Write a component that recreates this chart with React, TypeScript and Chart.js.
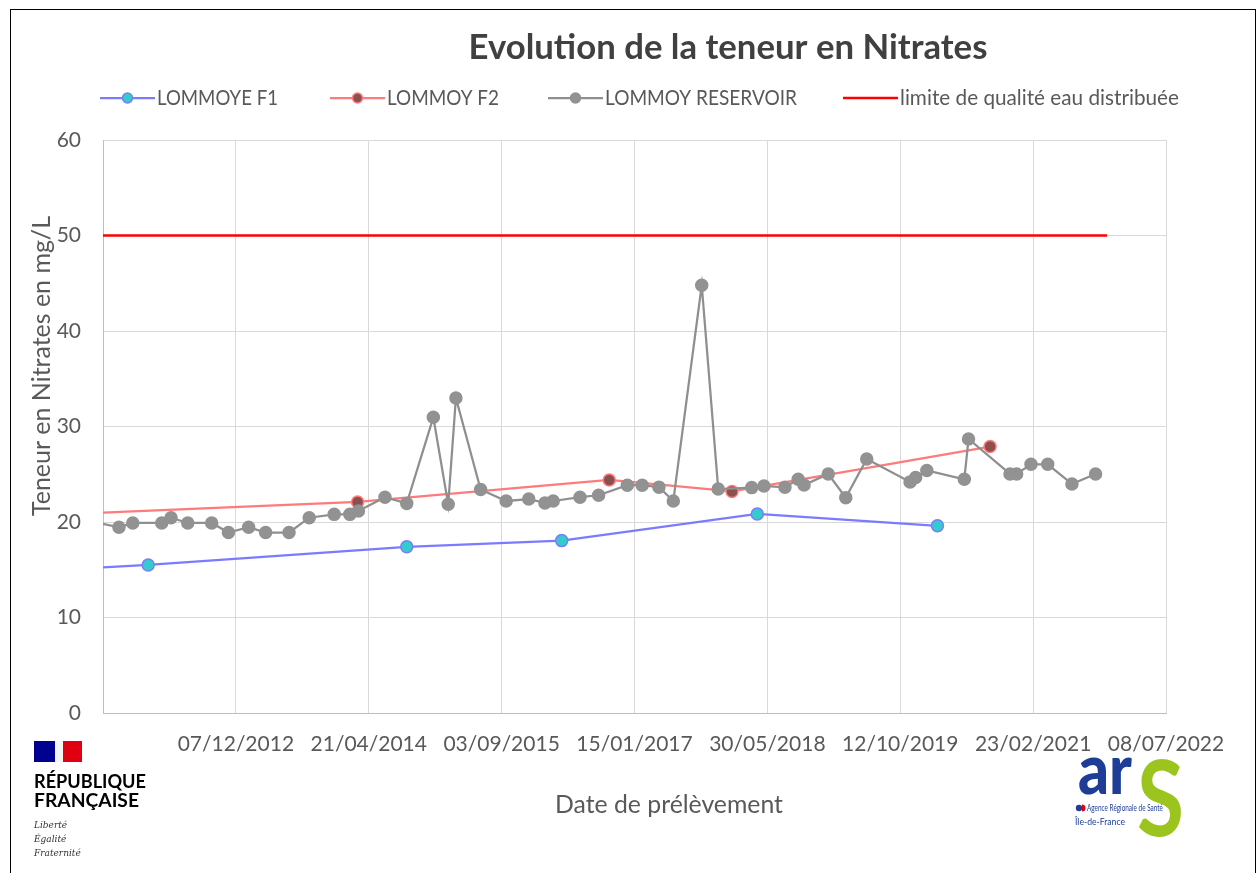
import React, { useEffect, useRef } from "react";
import { Chart, registerables } from "chart.js";

Chart.register(...registerables);

// Dates are Excel day serials (days since 30/12/1899)
const F1_DATES = [40500, 40920, 41893, 42476, 43212, 43890];
const F1_VALUES = [14.9, 15.5, 17.4, 18.05, 20.84, 19.6];

const F2_DATES = [40500, 41708, 42655, 43117, 44088];
const F2_VALUES = [20.7, 22.1, 24.4, 23.2, 27.9];

const RES_DATES = [
  40700, 40810, 40862, 40971, 41006, 41069, 41159, 41222, 41298, 41362,
  41450, 41526, 41620, 41679, 41711, 41811, 41893, 41993, 42049, 42078,
  42171, 42267, 42352, 42413, 42444, 42545, 42615, 42723, 42779, 42842,
  42896, 43003, 43065, 43191, 43237, 43316, 43366, 43388, 43479, 43545,
  43624, 43787, 43808, 43850, 43991, 44007, 44163, 44188, 44242, 44305,
  44396, 44485,
];
const RES_VALUES = [
  20.1, 19.45, 19.9, 19.9, 20.45, 19.9, 19.9, 18.9, 19.45, 18.9,
  18.9, 20.45, 20.8, 20.8, 21.15, 22.6, 21.95, 30.96, 21.85, 32.98,
  23.4, 22.2, 22.4, 22.0, 22.2, 22.6, 22.8, 23.85, 23.85, 23.65,
  22.2, 44.8, 23.45, 23.6, 23.77, 23.63, 24.47, 23.87, 25.03, 22.55,
  26.6, 24.2, 24.67, 25.4, 24.47, 28.7, 25.03, 25.03, 26.04, 26.04,
  23.98, 25.03,
];

const LIMIT_DATES = [40000, 44528];
const LIMIT_VALUES = [50, 50];

const SERIES_LABELS = [
  "LOMMOYE F1",
  "LOMMOY F2",
  "LOMMOY RESERVOIR",
  "limite de qualité eau distribuée",
];

const X_MIN = 40750;
const X_MAX = 44750;
const X_STEP = 500;
const Y_MIN = 0;
const Y_MAX = 60;
const Y_STEP = 10;

const TITLE = "Evolution de la teneur en Nitrates";
const X_TITLE = "Date de prélèvement";
const Y_TITLE = "Teneur en Nitrates en mg/L";

const FONT = 'Lato, "Open Sans", sans-serif';
const TEXT_COLOR = "#595959";

function serialToLabel(serial: number): string {
  const d = new Date(Math.round((serial - 25569) * 86400000));
  const dd = String(d.getUTCDate()).padStart(2, "0");
  const mm = String(d.getUTCMonth() + 1).padStart(2, "0");
  return `${dd}/${mm}/${d.getUTCFullYear()}`;
}

function pts(xs: number[], ys: number[]) {
  return xs.map((x, i) => ({ x, y: ys[i] }));
}

function fitSize(ctx: CanvasRenderingContext2D, text: string, weight: string, target: number) {
  ctx.font = `${weight} 100px ${FONT}`;
  const w = ctx.measureText(text).width;
  return (100 * target) / w;
}

function drawScaledText(
  ctx: CanvasRenderingContext2D,
  text: string,
  x: number,
  y: number,
  target: number
) {
  const w = ctx.measureText(text).width;
  ctx.save();
  ctx.translate(x, y);
  ctx.scale(target / w, 1);
  ctx.fillText(text, 0, 0);
  ctx.restore();
}

const LEGEND_STARTS = [100, 330, 548, 843];
const LEGEND_TEXT_WIDTHS = [121, 112, 192, 279];

const decorPlugin = {
  id: "decor",
  afterDraw(chart: any) {
    const ctx: CanvasRenderingContext2D = chart.ctx;
    ctx.save();
    // Title
    const ts = fitSize(ctx, TITLE, "700", 519);
    ctx.font = `700 ${ts}px ${FONT}`;
    ctx.fillStyle = "#404040";
    ctx.textAlign = "center";
    ctx.textBaseline = "middle";
    ctx.fillText(TITLE, 728, 48);

    // Legend
    const ls = fitSize(ctx, SERIES_LABELS[3], "400", 279);
    chart.data.datasets.forEach((ds: any, i: number) => {
      const x0 = LEGEND_STARTS[i];
      const y = 98;
      ctx.strokeStyle = ds.borderColor;
      ctx.lineWidth = i === 3 ? 2.5 : 2.25;
      ctx.beginPath();
      ctx.moveTo(x0, y);
      ctx.lineTo(x0 + 55, y);
      ctx.stroke();
      if (ds.pointRadius > 0) {
        ctx.beginPath();
        ctx.arc(x0 + 27.5, y, ds.pointRadius - 1, 0, Math.PI * 2);
        ctx.fillStyle = ds.pointBackgroundColor;
        ctx.fill();
        ctx.lineWidth = ds.pointBorderWidth;
        ctx.strokeStyle = ds.pointBorderColor;
        ctx.stroke();
      }
      ctx.font = `400 ${ls}px ${FONT}`;
      ctx.fillStyle = TEXT_COLOR;
      ctx.textAlign = "left";
      ctx.textBaseline = "middle";
      drawScaledText(ctx, ds.label, x0 + 57, y, LEGEND_TEXT_WIDTHS[i]);
    });

    // Axis titles
    const xs = fitSize(ctx, X_TITLE, "400", 228);
    ctx.font = `400 ${xs}px ${FONT}`;
    ctx.fillStyle = TEXT_COLOR;
    ctx.textAlign = "center";
    ctx.textBaseline = "middle";
    ctx.fillText(X_TITLE, 669, 805);

    const ys = fitSize(ctx, Y_TITLE, "400", 300);
    ctx.font = `400 ${ys}px ${FONT}`;
    ctx.translate(42, 366);
    ctx.rotate(-Math.PI / 2);
    ctx.fillText(Y_TITLE, 0, 0);
    ctx.restore();
  },
};

export default function App() {
  const ref = useRef<HTMLCanvasElement>(null);

  useEffect(() => {
    if (!ref.current) return;
    const chart = new Chart(ref.current, {
      type: "line",
      data: {
        datasets: [
          {
            label: SERIES_LABELS[0],
            data: pts(F1_DATES, F1_VALUES),
            borderColor: "#7b7bff",
            borderWidth: 2.25,
            pointRadius: 6,
            pointBackgroundColor: "#33cccc",
            pointBorderColor: "#7b7bff",
            pointBorderWidth: 1.5,
            order: 3,
            clip: 0,
          },
          {
            label: SERIES_LABELS[1],
            data: pts(F2_DATES, F2_VALUES),
            borderColor: "#ff7b7b",
            borderWidth: 2.25,
            pointRadius: 6,
            pointBackgroundColor: "#8b4f4f",
            pointBorderColor: "#ff7b7b",
            pointBorderWidth: 1.5,
            order: 2,
            clip: 0,
          },
          {
            label: SERIES_LABELS[2],
            data: pts(RES_DATES, RES_VALUES),
            borderColor: "#8f8f8f",
            borderWidth: 2.25,
            pointRadius: 6,
            pointBackgroundColor: "#929292",
            pointBorderColor: "#929292",
            pointBorderWidth: 1.5,
            order: 1,
            clip: 0,
          },
          {
            label: SERIES_LABELS[3],
            data: pts(LIMIT_DATES, LIMIT_VALUES),
            borderColor: "#ff0000",
            borderWidth: 2.5,
            pointRadius: 0,
            order: 0,
            clip: 0,
          },
        ],
      },
      options: {
        animation: false,
        responsive: false,
        devicePixelRatio: 1,
        layout: { padding: { top: 140, right: 91, bottom: 0, left: 0 } },
        plugins: {
          legend: { display: false },
          title: { display: false },
          tooltip: { enabled: false },
        },
        elements: { line: { tension: 0 } },
        scales: {
          x: {
            type: "linear",
            min: X_MIN,
            max: X_MAX,
            afterFit: (s: any) => {
              s.height = 160;
            },
            ticks: {
              stepSize: X_STEP,
              autoSkip: false,
              maxRotation: 0,
              padding: 19,
              color: TEXT_COLOR,
              font: { family: FONT, size: 21 },
              callback: (v: any) => (Number(v) === X_MIN ? "" : serialToLabel(Number(v))),
            },
            grid: { color: "#d9d9d9", drawTicks: false, lineWidth: 1 },
            border: { color: "#bfbfbf", width: 1 },
          },
          y: {
            min: Y_MIN,
            max: Y_MAX,
            afterFit: (s: any) => {
              s.width = 103;
            },
            ticks: {
              stepSize: Y_STEP,
              padding: 22,
              color: TEXT_COLOR,
              font: { family: FONT, size: 21 },
            },
            grid: { color: "#d9d9d9", drawTicks: false, lineWidth: 1 },
            border: { color: "#bfbfbf", width: 1 },
          },
        },
      },
      plugins: [decorPlugin],
    } as any);
    return () => chart.destroy();
  }, []);

  return (
    <div
      style={{
        position: "fixed",
        left: 0,
        top: 0,
        width: 1257,
        height: 873,
        background: "#fff",
        overflow: "hidden",
      }}
    >
      <div
        style={{
          position: "absolute",
          left: 10,
          top: 9,
          width: 1246,
          height: 900,
          boxSizing: "border-box",
          border: "1.5px solid #000",
        }}
      />
      <canvas
        ref={ref}
        width={1257}
        height={873}
        style={{ position: "absolute", left: 0, top: 0, width: 1257, height: 873 }}
      />
      <svg
        width={1257}
        height={873}
        style={{ position: "absolute", left: 0, top: 0, pointerEvents: "none" }}
      >
        <rect x={34} y={741} width={21} height={21} fill="#000091" />
        <rect x={55} y={741} width={8} height={21} fill="#f4f4f4" />
        <rect x={63} y={741} width={19} height={21} fill="#e1000f" />
        <text x={34} y={788} fontFamily={FONT} fontWeight={700} fontSize={18} textLength={112} lengthAdjust="spacingAndGlyphs" fill="#000">
          RÉPUBLIQUE
        </text>
        <text x={34} y={807} fontFamily={FONT} fontWeight={700} fontSize={18} textLength={105} lengthAdjust="spacingAndGlyphs" fill="#000">
          FRANÇAISE
        </text>
        <text x={34} y={828} fontFamily="'DejaVu Serif', serif" fontStyle="italic" fontSize={9} fill="#333">
          Liberté
        </text>
        <text x={34} y={842} fontFamily="'DejaVu Serif', serif" fontStyle="italic" fontSize={9} fill="#333">
          Égalité
        </text>
        <text x={34} y={856} fontFamily="'DejaVu Serif', serif" fontStyle="italic" fontSize={9} fill="#333">
          Fraternité
        </text>
        <text x={1078} y={794} fontFamily={FONT} fontWeight={900} fontSize={70} textLength={54} lengthAdjust="spacingAndGlyphs" fill="#1e3d96">
          ar
        </text>
        <text x={1137} y={836} fontFamily={FONT} fontWeight={700} fontSize={106} textLength={47} lengthAdjust="spacingAndGlyphs" fill="#9cc41e">
          S
        </text>
        <circle cx={1079} cy={808} r={3.2} fill="#1e3d96" />
        <path d="M1082 804.5 A3.5 3.5 0 0 1 1082 811.5 Z" fill="#e1000f" />
        <text x={1087} y={811} fontFamily={FONT} fontSize={9} textLength={76} lengthAdjust="spacingAndGlyphs" fill="#1e3d96">
          Agence Régionale de Santé
        </text>
        <text x={1075} y={825} fontFamily={FONT} fontSize={9} textLength={50} lengthAdjust="spacingAndGlyphs" fill="#1e3d96">
          Île-de-France
        </text>
      </svg>
    </div>
  );
}
